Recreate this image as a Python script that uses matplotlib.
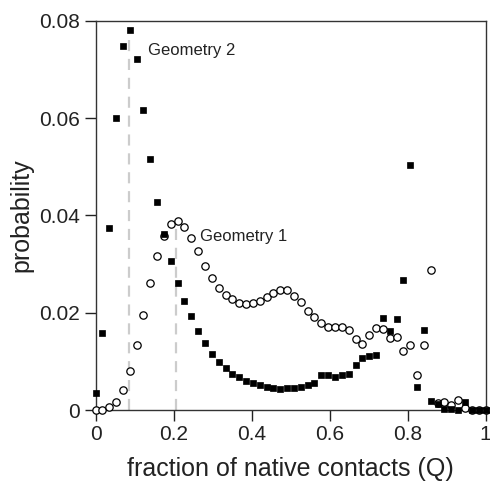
import numpy as np
import matplotlib
matplotlib.use('Agg')
from matplotlib import pyplot as plt

plt.rcParams['font.family'] = ['Liberation Sans', 'DejaVu Sans']

# Q = k / 57 for k = 0..57
n_contacts = 57
q = np.arange(n_contacts + 1) / n_contacts

# filled squares (Geometry 2)
p_geom2 = [0.0035, 0.0159, 0.0374, 0.0601, 0.0749, 0.0781, 0.0721, 0.0617,
           0.0516, 0.0428, 0.0362, 0.0306, 0.0262, 0.0225, 0.0193, 0.0163,
           0.0138, 0.0116, 0.0099, 0.0086, 0.0075, 0.0067, 0.0060, 0.0055,
           0.0051, 0.0048, 0.0045, 0.0044, 0.0045, 0.0045, 0.0048, 0.0051,
           0.0056, 0.0071, 0.0071, 0.0067, 0.0072, 0.0075, 0.0092, 0.0106,
           0.0112, 0.0114, 0.0189, 0.0162, 0.0187, 0.0268, 0.0503, 0.0048,
           0.0165, 0.0018, 0.0012, 0.0002, 0.0003, 0.0, 0.0016, 0.0, 0.0, 0.0]

# open circles (Geometry 1)
p_geom1 = [0.0, 0.0001, 0.0006, 0.0016, 0.0041, 0.0080, 0.0134, 0.0195,
           0.0261, 0.0317, 0.0357, 0.0383, 0.0389, 0.0377, 0.0353, 0.0327,
           0.0297, 0.0272, 0.0250, 0.0237, 0.0228, 0.0221, 0.0219, 0.0221,
           0.0225, 0.0233, 0.0241, 0.0247, 0.0247, 0.0235, 0.0222, 0.0204,
           0.0191, 0.0178, 0.0170, 0.0171, 0.0170, 0.0164, 0.0146, 0.0135,
           0.0155, 0.0168, 0.0167, 0.0149, 0.0151, 0.0122, 0.0134, 0.0071,
           0.0134, 0.0288, 0.0015, 0.0016, 0.0010, 0.0021, 0.0005, 0.0, 0.0, 0.0]

# dashed markers at the two peaks: (Q, height)
peak_q = [0.086, 0.206]
peak_p = [0.077, 0.038]
labels = ['Geometry 2', 'Geometry 1']
label_pos = [(0.135, 0.074), (0.268, 0.0356)]

fig = plt.figure(figsize=(4.9, 4.87), dpi=100)
ax = fig.add_axes([95.5 / 490, 77 / 487, 390 / 490, 389 / 487])

for xq, yp in zip(peak_q, peak_p):
    ax.plot([xq, xq], [0, yp], color='#cccccc', lw=1.6, dashes=(5, 3.5), zorder=1)

ax.plot(q, p_geom1, 'o', ms=5.3, mfc='white', mec='black', mew=0.9,
        clip_on=False, zorder=3)
ax.plot(q, p_geom2, 's', ms=4.9, mfc='black', mec='black', mew=0.5,
        clip_on=False, zorder=4)

for text, (tx, ty) in zip(labels, label_pos):
    ax.text(tx, ty, text, fontsize=12, va='center', ha='left', color='#222222')

ax.set_xlim(0, 1)
ax.set_ylim(0, 0.08)
ax.set_xticks([0, 0.2, 0.4, 0.6, 0.8, 1])
ax.set_xticklabels(['0', '0.2', '0.4', '0.6', '0.8', '1'])
ax.set_yticks([0, 0.02, 0.04, 0.06, 0.08])
ax.set_yticklabels(['0', '0.02', '0.04', '0.06', '0.08'])
ax.tick_params(direction='out', length=8, width=1, labelsize=15, pad=3,
               colors='#222222')
for s in ax.spines.values():
    s.set_linewidth(1)
    s.set_color('#333333')

ax.set_xlabel('fraction of native contacts (Q)', fontsize=18, labelpad=9,
              color='#222222')
ax.set_ylabel('probability', fontsize=18, labelpad=4, color='#222222')

fig.savefig('out.png', dpi=100)
